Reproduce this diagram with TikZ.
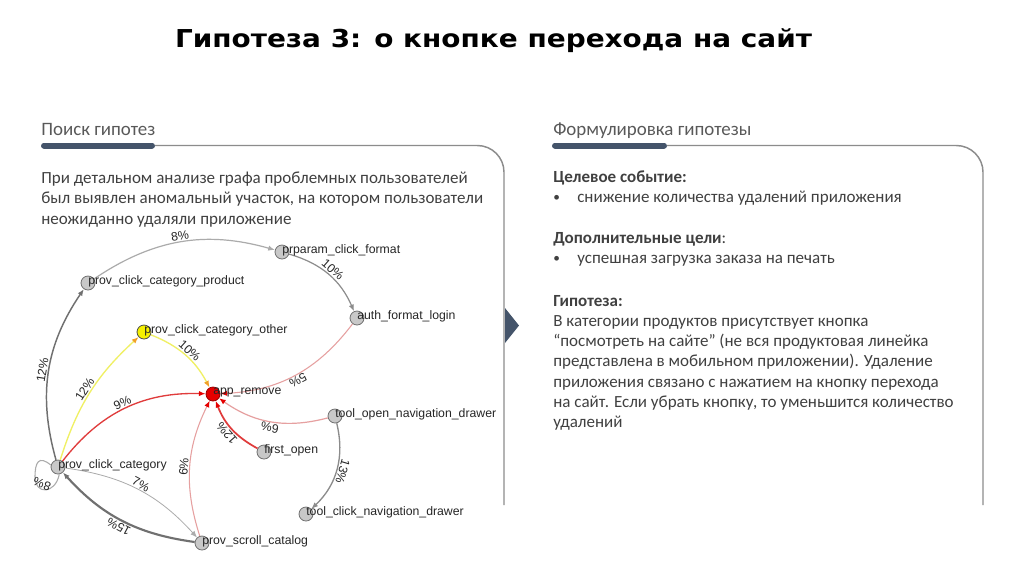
\documentclass[tikz,border=0pt]{standalone}
\usepackage{fontspec}
\setmainfont{Carlito}
\newfontfamily\titlefont{DejaVu Sans}
\newfontfamily\arial{Liberation Sans}
\usetikzlibrary{arrows.meta}
\definecolor{txt}{HTML}{404040}
\definecolor{hd}{HTML}{595959}
\definecolor{bar}{HTML}{44546A}
\definecolor{frame}{HTML}{8C8C8C}
\definecolor{eg}{HTML}{8C8C8C}
\definecolor{egd}{HTML}{707070}
\definecolor{egl}{HTML}{ABABAB}
\definecolor{er}{HTML}{E03C3C}
\definecolor{erl}{HTML}{E6A0A0}
\definecolor{ey}{HTML}{F0F064}
\definecolor{eo}{HTML}{F0A028}
\definecolor{nfill}{HTML}{C8C8C8}
\definecolor{nline}{HTML}{707070}
\newsavebox\titlebox
\tikzset{
  body/.style={anchor=base west, inner sep=0pt, text=txt, font=\fontsize{12.75}{15}\selectfont},
  bodyb/.style={body, font=\fontsize{12.75}{15}\selectfont\bfseries},
  bul/.style={anchor=base west, inner sep=0pt, text=txt, font=\fontsize{10}{12}\selectfont},
  head/.style={anchor=base west, inner sep=0pt, text=hd, font=\fontsize{14.2}{16}\selectfont},
  gnode/.style={circle, draw=nline, fill=nfill, line width=0.6pt, minimum size=10.5pt, inner sep=0pt},
  glab/.style={anchor=west, inner sep=0pt, text=black!85, font=\arial\fontsize{9.2}{10}\selectfont},
  elab/.style={sloped, allow upside down, above, inner sep=1pt, text=black!85, font=\arial\fontsize{9.2}{10}\selectfont},
  tk/.style={-{Latex[length=5pt,width=4pt]}},
  tr/.style={-{Latex[length=5pt,width=4pt,color=red!90!black]}},
  to/.style={-{Latex[length=5pt,width=4pt,color=eo]}},
}
\begin{document}
\begin{tikzpicture}[x=0.75pt,y=0.75pt]
\useasboundingbox[fill=white] (0,0) rectangle (1024,-576);
% title
\node[anchor=base, inner sep=0pt] (title) at (493.5,-47) {\sbox\titlebox{\titlefont\bfseries\fontsize{18.5}{22}\selectfont Гипотеза 3: о кнопке перехода на сайт}\pgfmathsetmacro\tsx{477.75/\wd\titlebox}\scalebox{\tsx}[1]{\usebox\titlebox}};
% panels
\draw[bar, line width=4.5pt, line cap=round] (44,-145.5) -- (152,-145.5);
\draw[frame, line width=1.1pt, rounded corners=20pt] (155,-145.5) -- (504,-145.5) -- (504,-505);
\draw[bar, line width=4.5pt, line cap=round] (555,-145.5) -- (664,-145.5);
\draw[frame, line width=1.1pt, rounded corners=20pt] (667,-145.5) -- (983,-145.5) -- (983,-505);
\fill[bar] (505,-308) -- (519,-325.5) -- (505,-343) -- cycle;
\node[head] (h1) at (41,-135) {Поиск гипотез};
\node[head] (h2) at (553,-135) {Формулировка гипотезы};
% left text
\node[body] (l1) at (41,-183) {При детальном анализе графа проблемных пользователей};
\node[body] (l2) at (41,-203.5) {был выявлен аномальный участок, на котором пользователи};
\node[body] (l3) at (41,-224) {неожиданно удаляли приложение};
% right text
\node[bodyb] (r1) at (553,-182) {Целевое событие:};
\node[bul] (b1) at (553,-201) {•};
\node[body] (r2) at (577,-202) {снижение количества удалений приложения};
\node[body] (r3) at (553,-243) {\textbf{Дополнительные цели}:};
\node[bul] (b2) at (553,-262) {•};
\node[body] (r4) at (577,-263) {успешная загрузка заказа на печать};
\node[bodyb] (r5) at (553,-306) {Гипотеза:};
\node[body] (r6) at (553,-326) {В категории продуктов присутствует кнопка};
\node[body] (r7) at (553,-346) {“посмотреть на сайте” (не вся продуктовая линейка};
\node[body] (r8) at (553,-366.5) {представлена в мобильном приложении). Удаление};
\node[body] (r9) at (553,-387) {приложения связано с нажатием на кнопку перехода};
\node[body] (r10) at (553,-407) {на сайт. Если убрать кнопку, то уменьшится количество};
\node[body] (r11) at (553,-427) {удалений};
% graph nodes
\node[gnode] (prod) at (88,-283) {};
\node[gnode, fill={rgb,255:red,245;green,240;blue,0}, draw=black!70] (other) at (144,-332) {};
\node[gnode] (fmt) at (282,-252) {};
\node[gnode] (auth) at (357,-318) {};
\node[gnode] (topen) at (335,-416) {};
\node[gnode] (first) at (264,-452) {};
\node[gnode] (tclick) at (306,-514) {};
\node[gnode] (pcc) at (58,-467) {};
\node[gnode] (scroll) at (202,-543) {};
\node[gnode, fill=red!90!black, draw=red!60!black] (app) at (213,-394) {};
% edges
\draw[egd, line width=1.1pt, tk] (pcc) to[bend left=25] node[elab]{12\%} (prod);
\draw[egl, line width=0.9pt, tk] (prod) to[bend left=25] node[elab]{8\%} (fmt);
\draw[eg, line width=0.9pt, tk] (fmt) to[bend left=25] node[elab]{10\%} (auth);
\draw[ey, line width=1pt, to] (pcc) to[bend left=15] node[elab]{12\%} (other);
\draw[ey, line width=1pt, to] (other) to[bend left=20] node[elab]{10\%} (app);
\draw[eg, line width=1pt, tk] (topen) to[bend left=30] node[elab]{13\%} (tclick);
\draw[egl, line width=0.6pt, tk] (pcc) to[bend left=20] node[elab]{7\%} (scroll);
\draw[egd, line width=1.6pt, tk] (scroll) to[bend left=20] node[elab]{15\%} (pcc);
\draw[egl, line width=0.8pt] (pcc.165) .. controls +(-12,10) and +(0,15) .. ([shift={(-23,-10)}]pcc.center) .. controls +(0,-18) and +(-4,-20) .. (pcc.280);
\node[inner sep=0pt, rotate=160, text=black!85, font=\arial\fontsize{9.2}{10}\selectfont] (loopl) at (42,-484) {8\%};
\draw[erl, line width=0.8pt, tr] (auth) to[bend left=25] node[elab]{5\%} (app);
\draw[er, line width=1pt, tr] (pcc) to[bend left=27] node[elab]{9\%} (app);
\draw[erl, line width=0.9pt, tr] (topen) to[bend left=25] node[elab]{6\%} (app);
\draw[er, line width=1.3pt, tr] (first) to[bend left=20] node[elab]{12\%} (app);
\draw[erl, line width=0.8pt, tr] (scroll) to[bend left=22] node[elab]{6\%} (app);
% node labels
\node[glab] (tprod) at ([shift={(0,2)}]prod.center) {prov\_click\_category\_product};
\node[glab] (tother) at ([shift={(0,2)}]other.center) {prov\_click\_category\_other};
\node[glab] (tfmt) at ([shift={(0,2)}]fmt.center) {prparam\_click\_format};
\node[glab] (tauth) at ([shift={(0,2)}]auth.center) {auth\_format\_login};
\node[glab] (tapp) at ([shift={(0,2)}]app.center) {app\_remove};
\node[glab] (ttopen) at ([shift={(0,2)}]topen.center) {tool\_open\_navigation\_drawer};
\node[glab] (tfirst) at ([shift={(0,2)}]first.center) {first\_open};
\node[glab] (ttclick) at ([shift={(0,2)}]tclick.center) {tool\_click\_navigation\_drawer};
\node[glab] (tpcc) at ([shift={(0,2)}]pcc.center) {prov\_click\_category};
\node[glab] (tscroll) at ([shift={(0,2)}]scroll.center) {prov\_scroll\_catalog};
\end{tikzpicture}
\end{document}
